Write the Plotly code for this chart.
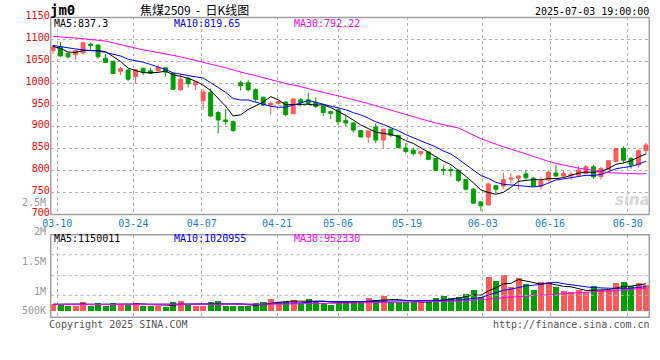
import pandas as pd
import plotly.graph_objects as go

# ---------------- data ----------------
holidays = ["2025-04-04", "2025-05-01", "2025-05-02", "2025-05-05", "2025-06-02"]
dates = [d.strftime("%m-%d") for d in pd.bdate_range("2025-03-07", "2025-07-03")
         if d.strftime("%Y-%m-%d") not in holidays]

open_ = [1074, 1082, 1068, 1065, 1069, 1089, 1087, 1057, 1050, 1027,
         1030, 1015, 1034, 1028, 1028, 1035, 1022, 985, 1011, 996,
         960, 979, 933, 916, 912, 1001, 1001, 985, 968, 950,
         954, 957, 930, 962, 962, 956, 947, 935, 939, 915,
         909, 892, 877, 900, 870, 895, 881, 852, 847, 839,
         843, 828, 803, 803, 801, 780, 758, 729, 722, 766,
         765, 781, 783, 793, 783, 765, 779, 795, 788, 788,
         790, 794, 809, 787, 803, 821, 851, 828, 813, 846]
high = [1087, 1094, 1069, 1077, 1095, 1092, 1088, 1066, 1050, 1037,
        1032, 1033, 1035, 1035, 1042, 1035, 1024, 1022, 1015, 1003,
        986, 988, 936, 941, 915, 1006, 1007, 988, 969, 958,
        960, 957, 965, 966, 978, 968, 950, 937, 943, 928,
        911, 892, 891, 908, 896, 896, 882, 864, 853, 845,
        845, 829, 812, 809, 803, 782, 761, 730, 773, 767,
        796, 794, 790, 801, 786, 786, 801, 813, 801, 798,
        811, 813, 813, 809, 823, 851, 856, 832, 849, 864]
low = [1066, 1060, 1056, 1054, 1065, 1076, 1056, 1047, 1021, 1018,
       1005, 1000, 1018, 1021, 1027, 1015, 984, 982, 990, 984,
       939, 922, 885, 905, 889, 983, 981, 956, 948, 928,
       950, 924, 930, 947, 950, 943, 925, 918, 905, 902,
       887, 877, 863, 863, 851, 877, 851, 839, 835, 833,
       824, 800, 790, 787, 774, 755, 725, 708, 721, 750,
       759, 771, 757, 780, 763, 757, 776, 786, 784, 779,
       786, 792, 782, 780, 803, 821, 818, 805, 808, 838]
close = [1083, 1062, 1060, 1074, 1092, 1086, 1060, 1047, 1022, 1033,
         1009, 1030, 1025, 1022, 1036, 1025, 986, 1009, 999, 1003,
         980, 925, 916, 912, 892, 994, 985, 963, 950, 954,
         958, 928, 964, 956, 954, 947, 933, 931, 912, 909,
         893, 877, 891, 870, 895, 881, 853, 844, 839, 844,
         826, 801, 800, 800, 778, 758, 726, 720, 770, 758,
         780, 783, 788, 784, 765, 777, 797, 788, 794, 792,
         802, 809, 786, 805, 823, 851, 824, 813, 846, 859]
volume = [314000, 314000, 202000, 202000, 374000, 202000, 331000, 202000, 331000, 288000,
          275000, 331000, 202000, 202000, 202000, 172000, 374000, 417000, 245000, 202000,
          232000, 374000, 430000, 202000, 202000, 232000, 202000, 331000, 374000, 503000,
          374000, 374000, 460000, 331000, 503000, 430000, 331000, 258000, 344000, 374000,
          417000, 374000, 546000, 460000, 632000, 374000, 374000, 374000, 374000, 374000,
          374000, 546000, 632000, 546000, 589000, 718000, 890000, 589000, 1462000, 1277000,
          1535000, 1019000, 1406000, 1148000, 890000, 1234000, 1234000, 1019000, 847000, 804000,
          890000, 804000, 1062000, 890000, 890000, 1191000, 1234000, 1062000, 1191000, 1105000]

# moving-average values before the first full window
ma5_head = [1084, 1079, 1071, 1070]
ma10_head = [1086, 1083, 1080, 1078, 1076, 1075, 1073, 1070, 1066]
ma30_head = [1107, 1105, 1104, 1103, 1101, 1099, 1098, 1096, 1092, 1088,
             1083, 1079, 1076, 1073, 1070, 1067, 1064, 1060, 1056, 1052,
             1048, 1044, 1040, 1035, 1030, 1025, 1021, 1017, 1013]
vma5_head = [270000, 275000, 275000, 278000]
vma10_head = [280000, 280000, 278000, 278000, 280000, 280000, 278000, 276000, 276000]
vma30_head = [260000] * 10 + [265000] * 10 + [272000] * 9

# legend texts exactly as printed on the chart
price_ma_labels = ["MA5:837.3", "MA10:819.65", "MA30:792.22"]
vol_ma_labels = ["MA5:1150011", "MA10:1020955", "MA30:952330"]
vol_axis_labels = ["2.5M", "2M", "1.5M", "1M", "500K"]
tick_labels = ["03-10", "03-24", "04-07", "04-21", "05-06", "05-19", "06-03", "06-16", "06-30"]
price_ticks = [700, 750, 800, 850, 900, 950, 1000, 1050, 1100, 1150]

# ---------------- derived ----------------
def ma(values, n, head):
    s = pd.Series(values, dtype=float).rolling(n).mean()
    return list(head) + s.iloc[n - 1:].round(2).tolist()

ma5 = ma(close, 5, ma5_head)
ma10 = ma(close, 10, ma10_head)
ma30 = ma(close, 30, ma30_head)
vma5 = ma(volume, 5, vma5_head)
vma10 = ma(volume, 10, vma10_head)
vma30 = ma(volume, 30, vma30_head)

idx = list(range(len(dates)))
RED = "#ff5858"
GREEN = "#00a000"
BLUE = "#0000ff"
MAG = "#ff00ff"
GRID = "#b4b4b4"
BORDER = "#a0a0a0"
MONO = "DejaVu Sans Mono"
W, H = 660, 360

def px(p):
    return p / W

def py(p):
    return 1 - p / H

L, R = 50.7, 649.3
P_TOP, P_BOT = 17.4, 214.6
V_TOP, V_BOT = 234.7, 317.3
tick_pos = [0.57, 10.70, 19.81, 29.84, 37.97, 47.16, 57.25, 66.21, 76.56]
xrange_ = [-0.31, 79.44]

fig = go.Figure()
fig.add_trace(go.Candlestick(
    x=idx, open=open_, high=high, low=low, close=close, text=dates,
    increasing=dict(line=dict(color=RED, width=1), fillcolor=RED),
    decreasing=dict(line=dict(color=GREEN, width=1), fillcolor=GREEN),
    whiskerwidth=0, xaxis="x", yaxis="y", showlegend=False))
for vals, col in [(ma5, "#000000"), (ma10, BLUE), (ma30, MAG)]:
    fig.add_trace(go.Scatter(x=idx, y=vals, mode="lines", line=dict(color=col, width=1),
                             xaxis="x", yaxis="y", showlegend=False, hoverinfo="skip"))

bar_colors = [RED if c >= o else GREEN for o, c in zip(open_, close)]
fig.add_trace(go.Bar(x=idx, y=volume, marker=dict(color=bar_colors, line=dict(width=0)),
                     width=0.8, xaxis="x2", yaxis="y2", showlegend=False))
for vals, col in [(vma5, "#000000"), (vma10, BLUE), (vma30, MAG)]:
    fig.add_trace(go.Scatter(x=idx, y=vals, mode="lines", line=dict(color=col, width=1),
                             xaxis="x2", yaxis="y2", showlegend=False, hoverinfo="skip"))

vol_per_px = 43000
fig.update_layout(
    width=W, height=H, margin=dict(l=0, r=0, t=0, b=0, autoexpand=False),
    paper_bgcolor="white", plot_bgcolor="white", boxgap=0.25,
    bargap=0, showlegend=False,
    xaxis=dict(domain=[px(L), px(R)], range=xrange_, anchor="y", automargin=False,
               tickmode="array", tickvals=tick_pos, ticktext=tick_labels,
               tickfont=dict(family=MONO, size=10, color="#1a7fd0"), ticklabelstandoff=1,
               showgrid=True, gridcolor=GRID, griddash="dot", gridwidth=1,
               zeroline=False, showline=False, ticks="", rangeslider=dict(visible=False)),
    yaxis=dict(domain=[py(P_BOT), py(P_TOP)], range=[700, 1150], anchor="x", automargin=False,
               tickmode="array", tickvals=price_ticks, ticklabelshift=-2,
               tickfont=dict(family=MONO, size=10, color="#ff0000"),
               showgrid=True, gridcolor=GRID, griddash="dot", gridwidth=1,
               zeroline=False, showline=False, ticks=""),
    xaxis2=dict(domain=[px(L), px(R)], range=xrange_, anchor="y2", automargin=False,
                tickmode="array", tickvals=tick_pos, showticklabels=False,
                showgrid=True, gridcolor=GRID, griddash="dot", gridwidth=1,
                zeroline=False, showline=False, ticks=""),
    yaxis2=dict(domain=[py(V_BOT), py(V_TOP)], automargin=False,
                range=[-(V_BOT - 310.7) * vol_per_px, (310.7 - V_TOP) * vol_per_px],
                anchor="x2", showticklabels=False, showgrid=False,
                zeroline=False, showline=False, ticks=""),
)

shapes = []
for top, bot in [(P_TOP, P_BOT), (V_TOP, V_BOT)]:
    shapes.append(dict(type="rect", xref="paper", yref="paper", x0=px(L), x1=px(R),
                       y0=py(bot), y1=py(top), line=dict(color=BORDER, width=1.5)))
for gy in [254.7, 275.7, 295.3]:
    shapes.append(dict(type="line", xref="paper", yref="paper", x0=px(L), x1=px(R),
                       y0=py(gy), y1=py(gy), line=dict(color=GRID, width=1, dash="dot")))
fig.update_layout(shapes=shapes)

ann = []
def text(x, y, s, color="#000000", size=10, family=MONO, anchor="left"):
    ann.append(dict(x=px(x), y=py(y), xref="paper", yref="paper", text=s, showarrow=False,
                    xanchor=anchor, yanchor="middle", borderpad=0,
                    font=dict(family=family, size=size, color=color)))

text(49, 10, "<b>jm0</b>", size=14)
text(139, 9, "焦煤2509  -  日K线图", size=12, family="Noto Sans CJK SC")
text(650, 12, "2025-07-03 19:00:00", anchor="right")
for lab, x0, col in zip(price_ma_labels, [53, 173, 293], ["#000000", BLUE, MAG]):
    text(x0, 24, lab, color=col)
for lab, x0, col in zip(vol_ma_labels, [53, 173, 293], ["#000000", BLUE, MAG]):
    text(x0, 238.5, lab, color=col)
for lab, yy in zip(vol_axis_labels, [202, 231.5, 261, 291, 310.5]):
    text(47, yy, lab, color="#999999", anchor="right", size=10)
text(48, 324, "Copyright 2025 SINA.COM", color="#555555")
text(651, 324, "http://finance.sina.com.cn", color="#555555", anchor="right")
text(632, 200, "<b><i>sina</i></b>", color="#d6d6d6", size=15, family="DejaVu Sans", anchor="center")
fig.update_layout(annotations=ann)

fig.write_html("out.html", config={"displayModeBar": False},
               post_script="document.body.style.margin='0';document.body.style.overflow='hidden';")
